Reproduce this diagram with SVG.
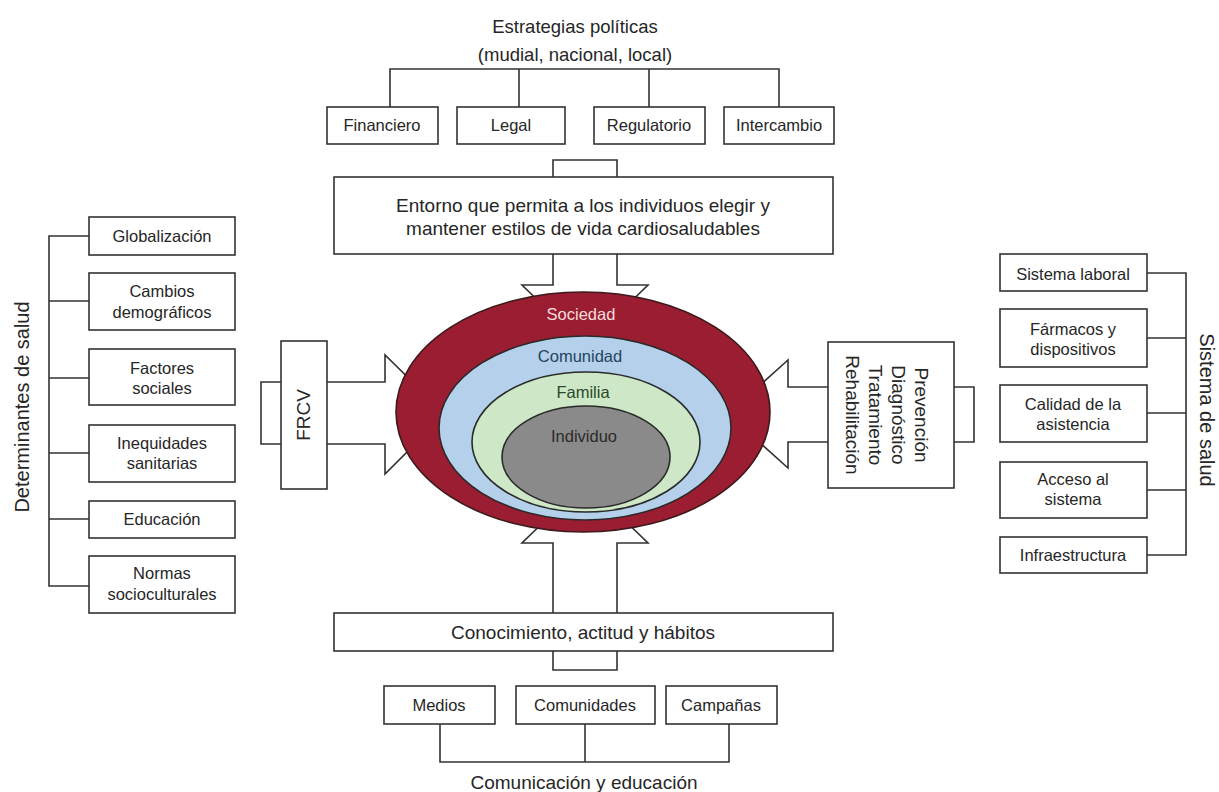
<svg xmlns="http://www.w3.org/2000/svg" width="1219" height="792" viewBox="0 0 1219 792">
<style>
text{font-family:"Liberation Sans",Arial,sans-serif;fill:#262626;text-anchor:middle}
.b{fill:#fff;stroke:#333;stroke-width:1.6}
.l{fill:none;stroke:#333;stroke-width:1.6}
.a{fill:#fff;stroke:#333;stroke-width:1.6;stroke-linejoin:miter}
.t{font-size:16.5px}
.h{font-size:19px}
.r{font-size:20px}
</style>
<rect width="1219" height="792" fill="#fff"/>
<g id="connectors">
<path class="l" d="M390,107V69H779V107M519,69V107M649,69V107"/>
<path class="l" d="M89,236H49V586H89M49,301H89M49,378H89M49,453H89M49,519H89"/>
<path class="l" d="M1147,273H1186V555H1147M1186,338H1147M1186,413H1147M1186,490H1147"/>
<path class="l" d="M440,724V762H729V724M585,724V762"/>
<polygon class="a" points="553,160 617,160 617,285 648,285 585,346 522,285 553,285"/>
<polygon class="a" points="261,382 385,382 385,355 445,414 385,474 385,444 261,444"/>
<polygon class="a" points="974,387 788,387 788,360 728,414 788,468 788,442 974,442"/>
<polygon class="a" points="553,670 553,543 522,543 585,482 648,543 617,543 617,670"/>
</g>
<g id="title"><text x="575" y="33" style="font-size:18.5px">Estrategias políticas</text><text x="575" y="61" style="font-size:18.5px">(mudial, nacional, local)</text></g>
<g id="financiero"><rect class="b" x="327" y="107" width="111" height="37"/><text class="t" x="382" y="131">Financiero</text></g>
<g id="legal"><rect class="b" x="457" y="107" width="108" height="37"/><text class="t" x="511" y="131">Legal</text></g>
<g id="regulatorio"><rect class="b" x="594" y="107" width="111" height="37"/><text class="t" x="649" y="131">Regulatorio</text></g>
<g id="intercambio"><rect class="b" x="724" y="107" width="110" height="37"/><text class="t" x="779" y="131">Intercambio</text></g>
<g id="entorno"><rect class="b" x="334" y="177" width="499" height="77"/><text class="h" x="583" y="212">Entorno que permita a los individuos elegir y</text><text class="h" x="583" y="235">mantener estilos de vida cardiosaludables</text></g>
<g id="ellipses">
<ellipse cx="583" cy="412" rx="187" ry="120" fill="#9b1d32" stroke="#3a1a1a" stroke-width="1.6"/>
<ellipse cx="585" cy="428" rx="146" ry="92" fill="#b5d0ea" stroke="#2a2a2a" stroke-width="1.6"/>
<ellipse cx="586" cy="442" rx="114" ry="70" fill="#cde7c7" stroke="#2a2a2a" stroke-width="1.6"/>
<ellipse cx="586" cy="457" rx="84" ry="51" fill="#8a8a8a" stroke="#2a2a2a" stroke-width="1.6"/>
<text class="t" x="581" y="320" style="fill:#f6dede">Sociedad</text>
<text class="t" x="580" y="362" style="fill:#24445e">Comunidad</text>
<text class="t" x="583" y="398" style="fill:#294a2a">Familia</text>
<text class="t" x="584" y="442" style="fill:#2a2a2a">Individuo</text>
</g>
<g id="frcv"><rect class="b" x="281" y="341" width="46" height="148"/><text class="h" transform="translate(310,415) rotate(-90)">FRCV</text></g>
<g id="prevencion"><rect class="b" x="828" y="342" width="126" height="146"/>
<g transform="translate(891,415) rotate(90)" style="font-size:19px"><text x="0" y="-24">Prevención</text><text x="0" y="-1">Diagnóstico</text><text x="0" y="22">Tratamiento</text><text x="0" y="45">Rehabilitación</text></g></g>
<g id="determinantes"><text class="r" transform="translate(29,407) rotate(-90)">Determinantes de salud</text></g>
<g id="globalizacion"><rect class="b" x="89" y="217" width="146" height="38"/><text class="t" x="162" y="242">Globalización</text></g>
<g id="cambios"><rect class="b" x="89" y="273" width="146" height="57"/><text class="t" x="162" y="297">Cambios</text><text class="t" x="162" y="318">demográficos</text></g>
<g id="factores"><rect class="b" x="89" y="349" width="146" height="56"/><text class="t" x="162" y="374">Factores</text><text class="t" x="162" y="394">sociales</text></g>
<g id="inequidades"><rect class="b" x="89" y="425" width="146" height="57"/><text class="t" x="162" y="449">Inequidades</text><text class="t" x="162" y="469">sanitarias</text></g>
<g id="educacion"><rect class="b" x="89" y="501" width="146" height="37"/><text class="t" x="162" y="525">Educación</text></g>
<g id="normas"><rect class="b" x="89" y="556" width="146" height="57"/><text class="t" x="162" y="579">Normas</text><text class="t" x="162" y="600">socioculturales</text></g>
<g id="sistema"><text class="r" transform="translate(1200,410) rotate(90)">Sistema de salud</text></g>
<g id="laboral"><rect class="b" x="1000" y="254" width="147" height="37"/><text class="t" x="1073" y="280">Sistema laboral</text></g>
<g id="farmacos"><rect class="b" x="1000" y="309" width="147" height="58"/><text class="t" x="1073" y="335">Fármacos y</text><text class="t" x="1073" y="355">dispositivos</text></g>
<g id="calidad"><rect class="b" x="1000" y="385" width="147" height="57"/><text class="t" x="1073" y="410">Calidad de la</text><text class="t" x="1073" y="430">asistencia</text></g>
<g id="acceso"><rect class="b" x="1000" y="462" width="147" height="56"/><text class="t" x="1073" y="485">Acceso al</text><text class="t" x="1073" y="505">sistema</text></g>
<g id="infra"><rect class="b" x="1000" y="537" width="147" height="36"/><text class="t" x="1073" y="561">Infraestructura</text></g>
<g id="conocimiento"><rect class="b" x="334" y="613" width="499" height="38"/><text class="h" x="583" y="639">Conocimiento, actitud y hábitos</text></g>
<g id="medios"><rect class="b" x="384" y="686" width="111" height="38"/><text class="t" x="439" y="711">Medios</text></g>
<g id="comunidades"><rect class="b" x="516" y="686" width="139" height="38"/><text class="t" x="585" y="711">Comunidades</text></g>
<g id="campanas"><rect class="b" x="666" y="686" width="111" height="38"/><text class="t" x="721" y="711">Campañas</text></g>
<g id="comunicacion"><text class="h" x="584" y="789">Comunicación y educación</text></g>
</svg>
